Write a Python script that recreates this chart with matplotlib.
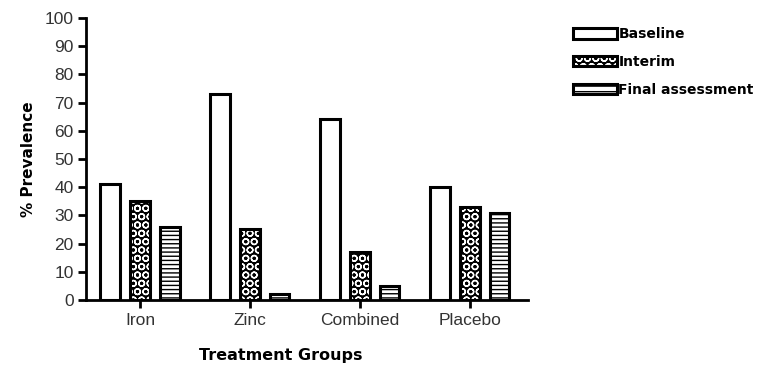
import numpy as np
import matplotlib.pyplot as plt
from matplotlib.patches import Patch

# data
groups = ['Iron', 'Zinc', 'Combined', 'Placebo']
baseline = [41, 73, 64, 40]
interim = [35, 25, 17, 33]
final = [26, 2, 5, 31]
series_names = ['Baseline', 'Interim', 'Final assessment']
yticks = [0, 10, 20, 30, 40, 50, 60, 70, 80, 90, 100]

fig = plt.figure(figsize=(7.62, 3.65), dpi=100)
ax = fig.add_axes([0.113, 0.178, 0.58, 0.773])

x = np.arange(len(groups))
w = 0.18
off = 0.27
lw = 2.2

# baseline: plain white
ax.bar(x - off, baseline, w, facecolor='white', edgecolor='black', linewidth=lw, zorder=3)

# interim: black with white dots (checkered)
ax.bar(x, interim, w, facecolor='black', edgecolor='white', hatch='OO', linewidth=0, zorder=3)
ax.bar(x, interim, w, fill=False, edgecolor='black', linewidth=lw, zorder=4)

# final: white with horizontal lines
ax.bar(x + off, final, w, facecolor='white', edgecolor='black', hatch='----', linewidth=lw, zorder=3)

ax.set_xlim(-0.49, 3.53)
ax.set_ylim(0, 100)
ax.set_yticks(yticks)
ax.set_xticks(x)
ax.set_xticklabels(groups)

tick_font = ['Liberation Sans', 'DejaVu Sans']
for lab in ax.get_yticklabels() + ax.get_xticklabels():
    lab.set_family(tick_font)
    lab.set_fontsize(12.5)
    lab.set_color('#333333')

ax.spines['top'].set_visible(False)
ax.spines['right'].set_visible(False)
ax.spines['left'].set_linewidth(2)
ax.spines['bottom'].set_linewidth(2)
ax.tick_params(axis='both', direction='out', length=6, width=2, pad=3)

ax.set_ylabel('% Prevalence', fontsize=11, fontweight='bold', labelpad=6)
ax.set_xlabel('Treatment Groups', fontsize=11.5, fontweight='bold')
ax.xaxis.set_label_coords(0.44, -0.17)

# legend
h1 = Patch(facecolor='white', edgecolor='black', linewidth=2.2)
h2a = Patch(facecolor='black', edgecolor='white', hatch='OO', linewidth=0)
h2b = Patch(fill=False, edgecolor='black', linewidth=2.2)
h3 = Patch(facecolor='white', edgecolor='black', hatch='---', linewidth=2.2)
leg = fig.legend([h1, (h2a, h2b), h3], series_names, loc='upper left',
                 bbox_to_anchor=(0.735, 0.96), frameon=False,
                 prop={'weight': 'bold', 'size': 10},
                 handlelength=3.2, handleheight=0.8, handletextpad=0.1,
                 labelspacing=1.0)

plt.savefig('out.png', dpi=100)
